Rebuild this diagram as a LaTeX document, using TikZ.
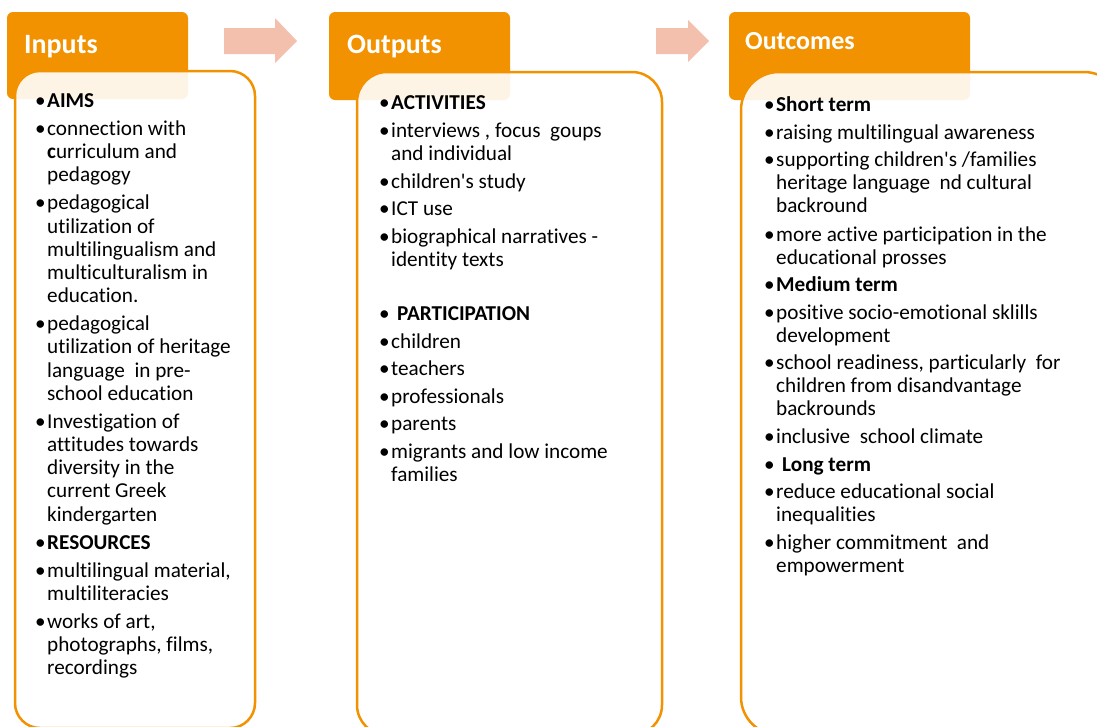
\documentclass[tikz,border=0pt]{standalone}
\usepackage{fontspec}
\setmainfont{Carlito}[Ligatures={NoCommon,NoContextual}]
\definecolor{orng}{RGB}{243,146,0}
\definecolor{arw}{RGB}{244,192,174}
\tikzset{
 hdr/.style={fill=orng, rounded corners=6pt},
 bodybox/.style={draw=orng, line width=2.5pt, fill=white, fill opacity=0.9},
 txt/.style={anchor=base west, inner sep=0pt, font=\fontsize{21.2}{23.2}\selectfont, text=black},
 bul/.style={anchor=base west, inner sep=0pt, font=\fontsize{21.2}{23.2}\selectfont, text=black},
 ttl/.style={anchor=base west, inner sep=0pt, text=white, font=\bfseries\fontsize{28}{30}\selectfont},
 arrowfill/.style={fill=arw}
}
\newcommand\itm[5]{\node[bul] (#1b) at (#2,#4) {•}; \node[txt] (#1) at (#3,#4) {#5};}
\newcommand\cnt[4]{\node[txt] (#1) at (#2,#3) {#4};}
\newcommand\apo{\textquotesingle}
\begin{document}
\begin{tikzpicture}[x=1pt,y=-1pt]
\useasboundingbox (0,0) rectangle (1097,726);
\clip (0,0) rectangle (1097,726);
% arrows
\fill[arrowfill] (224,28) -- (275,28) -- (275,18) -- (297,41) -- (275,63) -- (275,54) -- (224,54) -- cycle;
\fill[arrowfill] (656,28) -- (688,28) -- (688,20) -- (709,41) -- (688,62) -- (688,54) -- (656,54) -- cycle;
% headers
\fill[hdr] (7,12) rectangle (188,99);
\fill[hdr] (329,12) rectangle (510,100);
\fill[hdr] (729,12) rectangle (970,100);
\node[ttl] (t1) at (24,53) {Inputs};
\node[ttl] (t2) at (347,53) {Outputs};
\node[ttl, font=\bfseries\fontsize{26}{28}\selectfont] (t3) at (745,49) {Outcomes};
% bodies
\draw[bodybox, rounded corners=25pt] (15,71) rectangle (255,728);
\draw[bodybox, rounded corners=30pt] (357,72) rectangle (662,735);
\draw[bodybox, rounded corners=38pt] (741,72) rectangle (1122,735);
% Inputs text
\itm{a1}{35}{47}{107.5}{\textbf{AIMS}}
\itm{a2}{35}{47}{135.5}{connection with}
\cnt{a2b2}{47}{158.7}{\textbf{c}urriculum and}
\cnt{a2b3}{47}{181.9}{pedagogy}
\itm{a3}{35}{47}{209.9}{pedagogical}
\cnt{a3b2}{47}{233.1}{utilization of}
\cnt{a3b3}{47}{256.3}{multilingualism and}
\cnt{a3b4}{47}{279.5}{multiculturalism in}
\cnt{a3b5}{47}{302.7}{education.}
\itm{a4}{35}{47}{330.7}{pedagogical}
\cnt{a4b2}{47}{353.9}{utilization of heritage}
\cnt{a4b3}{47}{377.1}{language \ in pre-}
\cnt{a4b4}{47}{400.3}{school education}
\itm{a5}{35}{47}{428.3}{Investigation of}
\cnt{a5b2}{47}{451.5}{attitudes towards}
\cnt{a5b3}{47}{474.7}{diversity in the}
\cnt{a5b4}{47}{497.9}{current Greek}
\cnt{a5b5}{47}{521.1}{kindergarten}
\itm{a6}{35}{47}{549.1}{\textbf{RESOURCES}}
\itm{a7}{35}{47}{577.1}{multilingual material,}
\cnt{a7b2}{47}{600.3}{multiliteracies}
\itm{a8}{35}{47}{628.3}{works of art,}
\cnt{a8b2}{47}{651.5}{photographs, films,}
\cnt{a8b3}{47}{674.7}{recordings}
% Outputs text
\itm{b1}{379}{391}{109.5}{\textbf{ACTIVITIES}}
\itm{b2}{379}{391}{137.5}{interviews , focus \ goups}
\cnt{b2b2}{391}{160.7}{and individual}
\itm{b3}{379}{391}{188}{children\apo s study}
\itm{b4}{379}{391}{215.5}{ICT use}
\itm{b5}{379}{391}{243}{biographical narratives -}
\cnt{b5b2}{391}{266.2}{identity texts}
\itm{b6}{379}{397}{320}{\textbf{PARTICIPATION}}
\itm{b7}{379}{391}{348}{children}
\itm{b8}{379}{391}{375.5}{teachers}
\itm{b9}{379}{391}{403}{professionals}
\itm{b10}{379}{391}{430.5}{parents}
\itm{b11}{379}{391}{458}{migrants and low income}
\cnt{b11b2}{391}{481}{families}
% Outcomes text
\itm{c1}{764}{776}{111.5}{\textbf{Short term}}
\itm{c2}{764}{776}{139.5}{raising multilingual awareness}
\itm{c3}{764}{776}{166.5}{supporting children\apo s /families}
\cnt{c3b2}{776}{189.7}{heritage language \ nd cultural}
\cnt{c3b3}{776}{212.9}{backround}
\itm{c4}{764}{776}{241}{more active participation in the}
\cnt{c4b2}{776}{264.2}{educational prosses}
\itm{c5}{764}{776}{291.5}{\textbf{Medium term}}
\itm{c6}{764}{776}{319}{positive socio-emotional sklills}
\cnt{c6b2}{776}{342.2}{development}
\itm{c7}{764}{776}{369.5}{school readiness, particularly \ for}
\cnt{c7b2}{776}{392.7}{children from disandvantage}
\cnt{c7b3}{776}{415.9}{backrounds}
\itm{c8}{764}{776}{443.5}{inclusive \ school climate}
\itm{c9}{764}{782}{471}{\textbf{Long term}}
\itm{c10}{764}{776}{498.5}{reduce educational social}
\cnt{c10b2}{776}{521.7}{inequalities}
\itm{c11}{764}{776}{549}{higher commitment \ and}
\cnt{c11b2}{776}{572.2}{empowerment}
\end{tikzpicture}
\end{document}
